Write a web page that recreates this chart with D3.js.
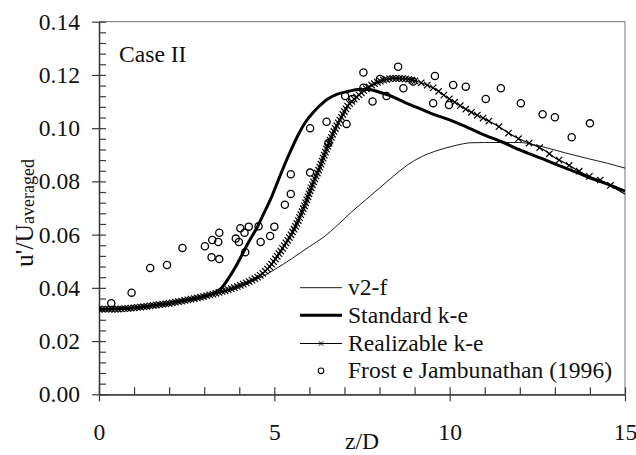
<!DOCTYPE html>
<html><head><meta charset="utf-8">
<script src="https://cdn.jsdelivr.net/npm/d3@7"></script>
<style>
html,body{margin:0;padding:0;background:#fff;}
svg, svg text{font-family:"Liberation Serif","Times New Roman",Times,"DejaVu Serif",serif !important;}
</style></head>
<body>
<svg id="chart" width="636" height="455"></svg>
<script>
// ---- data ----
const xTicks = [0, 5, 10, 15];
const yTicks = [0.00, 0.02, 0.04, 0.06, 0.08, 0.10, 0.12, 0.14];
const seriesNames = ["v2-f", "Standard k-e", "Realizable k-e", "Frost e Jambunathan (1996)"];
const caseLabel = "Case II";

const v2fZ = [0,0.5,1,1.5,2,2.5,3,3.5,4,4.5,5,5.5,6,6.4,6.8,7.2,7.6,8.0,8.4,8.8,9.2,9.7,10.2,10.6,11.0,12.0,12.4,12.8,13.3,13.9,14.5,15];
const v2fV = [0.032,0.032,0.0325,0.0333,0.0342,0.0354,0.0368,0.0384,0.0402,0.0432,0.0468,0.051,0.0555,0.059,0.0635,0.0685,0.073,0.0775,0.082,0.0862,0.0893,0.0918,0.0936,0.0945,0.0946,0.0946,0.0938,0.0925,0.0907,0.0887,0.0868,0.085];

const stdZ = [0,0.5,1,1.5,2,2.5,3,3.3,3.5,3.7,3.9,4.1,4.3,4.5,4.7,4.9,5.1,5.3,5.5,5.7,5.9,6.1,6.3,6.5,6.8,7.1,7.4,7.7,8.0,8.3,8.7,9.1,9.5,10.0,10.5,11.0,11.5,12.0,12.6,13.1,13.6,14.0,14.5,15.0];
const stdV = [0.032,0.0321,0.0325,0.0333,0.0342,0.0354,0.0368,0.0382,0.040,0.0437,0.048,0.053,0.058,0.0625,0.068,0.0735,0.080,0.0865,0.0925,0.098,0.1025,0.1058,0.1085,0.1108,0.1128,0.1138,0.1145,0.1145,0.1135,0.1122,0.1098,0.1076,0.1054,0.1031,0.1003,0.0974,0.0948,0.0918,0.0887,0.086,0.0835,0.0813,0.079,0.0763];

const realZ = [0,0.5,1,1.5,2,2.5,3,3.5,4.0,4.3,4.6,4.9,5.1,5.3,5.5,5.7,5.9,6.1,6.3,6.5,6.7,6.9,7.1,7.3,7.5,7.7,7.9,8.1,8.4,8.7,9.0,9.3,9.6,9.9,10.2,10.5,10.8,11.1,11.4,11.7,12.0,12.3,12.7,13.0,13.3,13.6,14.0,14.4,14.7,15];
const realV = [0.032,0.032,0.0325,0.0333,0.0342,0.0354,0.0368,0.0386,0.0408,0.0425,0.0447,0.0485,0.0522,0.0562,0.0605,0.0658,0.0722,0.0792,0.0855,0.0925,0.0988,0.1038,0.1085,0.1112,0.1135,0.1155,0.117,0.118,0.1187,0.1186,0.1178,0.1165,0.1146,0.1118,0.1093,0.1068,0.1048,0.1028,0.1006,0.098,0.0958,0.0942,0.0917,0.0889,0.0868,0.0845,0.0818,0.0799,0.0775,0.0752];

const expZ = [0.35,0.93,1.46,1.94,2.38,3.02,3.21,3.23,3.40,3.43,3.43,3.90,3.99,4.03,4.15,4.17,4.27,4.55,4.61,4.88,5.00,5.30,5.47,5.47,6.02,6.02,6.49,6.54,7.06,7.02,7.22,7.54,7.54,7.80,8.01,8.20,8.53,8.68,8.96,9.53,9.58,9.98,10.10,10.46,11.03,11.46,12.03,12.65,13.0,13.48,14.0];
const expV = [0.0342,0.0382,0.0475,0.0486,0.055,0.0556,0.0515,0.058,0.0572,0.0607,0.0508,0.0585,0.0572,0.0624,0.0607,0.0534,0.063,0.0631,0.0572,0.0595,0.063,0.0712,0.0827,0.0753,0.1000,0.0833,0.1024,0.0943,0.1016,0.1121,0.111,0.1209,0.1152,0.110,0.1185,0.1121,0.1231,0.115,0.1175,0.1094,0.1196,0.1087,0.1162,0.1156,0.111,0.115,0.1094,0.1052,0.1041,0.0966,0.1018];

// ---- layout ----
const FONT = '"Liberation Serif","Times New Roman",Times,"DejaVu Serif",serif';
const svg = d3.select("#chart");
const L = 99, R = 625, T = 21.7, B = 394.3;
const x = d3.scaleLinear().domain([0, 15]).range([L, R]);
const y = d3.scaleLinear().domain([0, 0.14]).range([B, T]);
const FS = 23.6;

// frame (top/right)
svg.append("line").attr("x1", L).attr("x2", R).attr("y1", T).attr("y2", T).attr("stroke", "#8a8a8a").attr("stroke-width", 1.2);
svg.append("line").attr("x1", R).attr("x2", R).attr("y1", T).attr("y2", B).attr("stroke", "#8a8a8a").attr("stroke-width", 1.2);

// y axis
const yMinor = d3.range(0, 0.1401, 0.004);
const gyOut = svg.append("g").attr("transform", `translate(${L},0)`)
  .call(d3.axisLeft(y).tickValues(yTicks).tickFormat(d3.format(".2f")).tickSizeInner(7).tickSizeOuter(0).tickPadding(12));
const gyIn = svg.append("g").attr("transform", `translate(${L},0)`)
  .call(d3.axisRight(y).tickValues(yMinor).tickFormat("").tickSizeInner(7).tickSizeOuter(0));
// x axis
const xMinor = d3.range(0, 15.01, 1);
const gxOut = svg.append("g").attr("transform", `translate(0,${B})`)
  .call(d3.axisBottom(x).tickValues(xTicks).tickFormat(d3.format("d")).tickSizeInner(7).tickSizeOuter(0).tickPadding(22));
const gxIn = svg.append("g").attr("transform", `translate(0,${B})`)
  .call(d3.axisTop(x).tickValues(xMinor).tickFormat("").tickSizeInner(7).tickSizeOuter(0));

[gyOut, gyIn, gxOut, gxIn].forEach(g => {
  g.attr("font-family", FONT).attr("font-size", FS);
  g.selectAll("path").attr("stroke", "#3a3a3a").attr("stroke-width", 1.3);
  g.selectAll("line").attr("stroke", "#3a3a3a").attr("stroke-width", 1.2);
  g.selectAll("text").style("font-family", FONT).attr("font-size", FS).attr("fill", "#111");
});

// axis titles
svg.append("text").attr("x", (L + R) / 2).attr("y", 449).attr("text-anchor", "middle")
  .style("font-family", FONT).attr("font-size", FS).attr("fill", "#111").text("z/D");
const yl = svg.append("text").attr("transform", "translate(33,213) rotate(-90)")
  .style("font-family", FONT).attr("text-anchor", "middle").attr("fill", "#111");
yl.append("tspan").attr("font-size", 25.5).text("u'/U");
yl.append("tspan").attr("font-size", 18).attr("dy", 1).text("averaged");

// case label
svg.append("text").attr("x", 119).attr("y", 62).style("font-family", FONT).attr("font-size", FS).attr("fill", "#111").text(caseLabel);

// ---- series ----
const line = d3.line().x(d => x(d[0])).y(d => y(d[1])).curve(d3.curveMonotoneX);
const zip = (a, b) => a.map((v, i) => [v, b[i]]);
const clipId = "plotclip";
svg.append("clipPath").attr("id", clipId).append("rect").attr("x", L).attr("y", T).attr("width", R - L).attr("height", B - T);
const plot = svg.append("g").attr("clip-path", `url(#${clipId})`);

plot.append("path").datum(zip(v2fZ, v2fV)).attr("d", line).attr("fill", "none").attr("stroke", "#000").attr("stroke-width", 0.9);
const realPath = plot.append("path").datum(zip(realZ, realV)).attr("d", line).attr("fill", "none").attr("stroke", "#000").attr("stroke-width", 1.1);
plot.append("path").datum(zip(stdZ, stdV)).attr("d", line).attr("fill", "none").attr("stroke", "#000").attr("stroke-width", 3);

// x-markers along the realizable line (line style)
const xMark = "M-3.2,-3.2L3.2,3.2M-3.2,3.2L3.2,-3.2";
const node = realPath.node();
const total = node.getTotalLength();
const mg = plot.append("g");
let s = 0;
while (s <= total) {
  const p = node.getPointAtLength(s);
  const zz = x.invert(p.x);
  if (zz > 14.75) break;
  mg.append("path").attr("d", xMark).attr("transform", `translate(${p.x},${p.y})`)
    .attr("stroke", "#000").attr("stroke-width", 1.2).attr("fill", "none");
  s += zz < 9 ? 3.2 : (zz < 11 ? 6.5 : 11.5);
}

// experimental circles
plot.append("g").selectAll("circle").data(zip(expZ, expV)).join("circle")
  .attr("cx", d => x(d[0])).attr("cy", d => y(d[1])).attr("r", 3.6)
  .attr("fill", "none").attr("stroke", "#000").attr("stroke-width", 1.3);

// ---- legend ----
const lg = svg.append("g");
const lx0 = 300, lx1 = 342, tx = 348;
const rows = [287.7, 315.3, 343.5, 370.8];
lg.append("line").attr("x1", lx0).attr("x2", lx1).attr("y1", rows[0]).attr("y2", rows[0]).attr("stroke", "#000").attr("stroke-width", 0.9);
lg.append("line").attr("x1", lx0).attr("x2", lx1).attr("y1", rows[1]).attr("y2", rows[1]).attr("stroke", "#000").attr("stroke-width", 3);
lg.append("line").attr("x1", lx0).attr("x2", lx1).attr("y1", rows[2]).attr("y2", rows[2]).attr("stroke", "#000").attr("stroke-width", 1);
lg.append("path").attr("d", "M-2.2,-2.2L2.2,2.2M-2.2,2.2L2.2,-2.2").attr("transform", `translate(${(lx0 + lx1) / 2},${rows[2]})`).attr("stroke", "#000").attr("stroke-width", 1);
lg.append("circle").attr("cx", (lx0 + lx1) / 2).attr("cy", rows[3]).attr("r", 2.8).attr("fill", "none").attr("stroke", "#000").attr("stroke-width", 1.1);
seriesNames.forEach((n, i) => {
  lg.append("text").attr("x", tx).attr("y", rows[i] + 7.5).style("font-family", FONT).attr("font-size", FS).attr("fill", "#111").text(n);
});
</script>
</body></html>
